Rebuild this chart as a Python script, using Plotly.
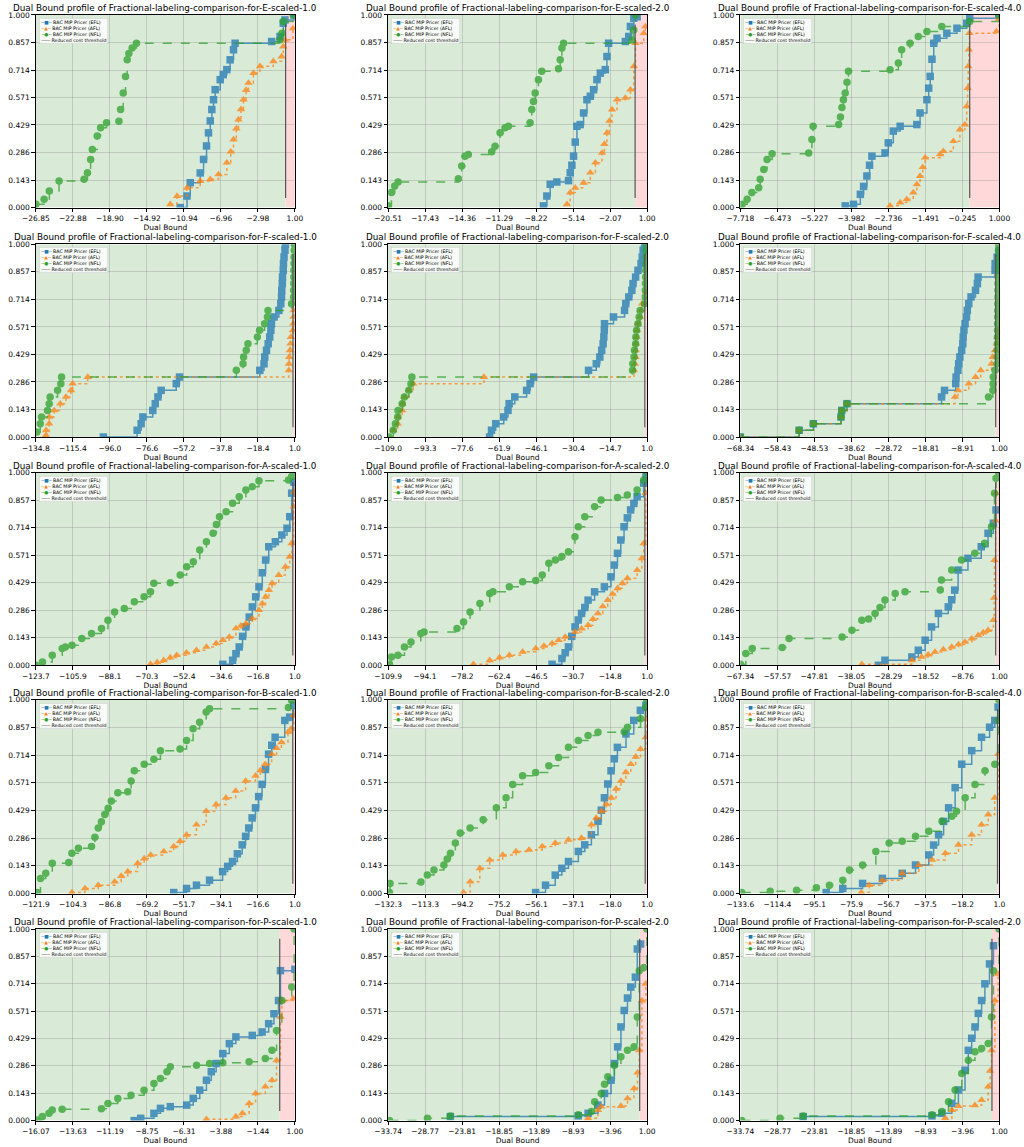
import plotly.graph_objects as go

# ---------------------------------------------------------------- data
PANEL_NAMES = [
    "E-scaled-1.0", "E-scaled-2.0", "E-scaled-4.0",
    "F-scaled-1.0", "F-scaled-2.0", "F-scaled-4.0",
    "A-scaled-1.0", "A-scaled-2.0", "A-scaled-4.0",
    "B-scaled-1.0", "B-scaled-2.0", "B-scaled-4.0",
    "P-scaled-1.0", "P-scaled-2.0", "P-scaled-2.0",
]

E1_TICKS = ["-26.85", "-22.88", "-18.90", "-14.92", "-10.94", "-6.96", "-2.98", "1.00"]
E2_TICKS = ["-20.51", "-17.43", "-14.36", "-11.29", "-8.22", "-5.14", "-2.07", "1.00"]
E4_TICKS = ["-7.718", "-6.473", "-5.227", "-3.982", "-2.736", "-1.491", "-0.245", "1.000"]
F1_TICKS = ["-134.8", "-115.4", "-96.0", "-76.6", "-57.2", "-37.8", "-18.4", "1.0"]
F2_TICKS = ["-109.0", "-93.3", "-77.6", "-61.9", "-46.1", "-30.4", "-14.7", "1.0"]
F4_TICKS = ["-68.34", "-58.43", "-48.53", "-38.62", "-28.72", "-18.81", "-8.91", "1.00"]
A1_TICKS = ["-123.7", "-105.9", "-88.1", "-70.3", "-52.4", "-34.6", "-16.8", "1.0"]
A2_TICKS = ["-109.9", "-94.1", "-78.2", "-62.4", "-46.5", "-30.7", "-14.8", "1.0"]
A4_TICKS = ["-67.34", "-57.57", "-47.81", "-38.05", "-28.29", "-18.52", "-8.76", "1.00"]
B1_TICKS = ["-121.9", "-104.3", "-86.8", "-69.2", "-51.7", "-34.1", "-16.6", "1.0"]
B2_TICKS = ["-132.3", "-113.3", "-94.2", "-75.2", "-56.1", "-37.1", "-18.0", "1.0"]
B4_TICKS = ["-133.6", "-114.4", "-95.1", "-75.9", "-56.7", "-37.5", "-18.2", "1.0"]
P1_TICKS = ["-16.07", "-13.63", "-11.19", "-8.75", "-6.31", "-3.88", "-1.44", "1.00"]
P2_TICKS = ["-33.74", "-28.77", "-23.81", "-18.85", "-13.89", "-8.93", "-3.96", "1.00"]
P3_TICKS = ["-33.74", "-28.77", "-23.81", "-18.85", "-13.89", "-8.93", "-3.96", "1.00"]

Y_TICKS = ["0.000", "0.143", "0.286", "0.429", "0.571", "0.714", "0.857", "1.000"]

THRESHOLD = 0.0
THRESHOLD_SPAN = [0.05, 0.95]

# E scaled 1.0
E1_EFL_X = [-11.33, -10.60, -10.25, -9.18, -8.82, -8.50, -8.29, -8.10, -7.93, -7.75, -7.57, -7.03, -6.70, -6.32,
            -5.96, -5.60, -5.43, -1.50, -0.60, -0.25, -0.07, 0.90]
E1_EFL_Y = [0.000, 0.060, 0.129, 0.180, 0.250, 0.320, 0.388, 0.450, 0.509, 0.560, 0.612, 0.664, 0.690, 0.716,
            0.767, 0.819, 0.853, 0.862, 0.888, 0.957, 0.974, 1.000]
E1_AFL_X = [-12.40, -11.67, -10.60, -9.18, -8.11, -7.21, -6.32, -5.90, -5.60, -5.30, -5.07, -4.80, -4.53, -4.25,
            -3.99, -3.46, -2.75, -1.32, -0.43, -0.25, -0.07, 0.80]
E1_AFL_Y = [0.017, 0.060, 0.103, 0.138, 0.147, 0.172, 0.233, 0.290, 0.353, 0.410, 0.457, 0.510, 0.560, 0.610,
            0.647, 0.698, 0.733, 0.759, 0.784, 0.836, 0.871, 0.930]
E1_NFL_X = [-26.85, -25.96, -25.40, -24.35, -21.67, -21.30, -20.96, -20.78, -20.25, -19.89, -19.25, -17.92, -17.74,
            -17.46, -17.21, -17.03, -16.85, -16.50, -16.03, -0.61, -0.40, -0.25, 0.82]
E1_NFL_Y = [0.017, 0.043, 0.086, 0.138, 0.147, 0.181, 0.250, 0.302, 0.371, 0.414, 0.440, 0.448, 0.509, 0.595,
            0.681, 0.767, 0.800, 0.828, 0.853, 0.871, 0.905, 0.966, 1.000]

# E scaled 2.0
E2_EFL_X = [-7.61, -7.33, -7.05, -6.50, -5.53, -5.39, -5.25, -5.11, -4.97, -4.83, -4.56, -4.28, -4.00, -3.72,
            -3.45, -3.17, -2.89, -2.48, -2.34, -2.20, -0.81, -0.53, -0.39, -0.11, 0.17]
E2_EFL_Y = [0.009, 0.060, 0.121, 0.133, 0.140, 0.181, 0.220, 0.267, 0.340, 0.422, 0.431, 0.491, 0.560, 0.578,
            0.612, 0.664, 0.698, 0.716, 0.784, 0.853, 0.862, 0.888, 0.940, 0.983, 0.990]
E2_AFL_X = [-5.66, -5.39, -4.97, -4.28, -3.72, -3.30, -2.75, -2.55, -2.34, -2.13, -1.92, -1.50, -0.81, -0.39,
            -0.11, 0.03, 0.72, 0.86]
E2_AFL_Y = [0.017, 0.078, 0.103, 0.129, 0.181, 0.233, 0.284, 0.330, 0.388, 0.450, 0.509, 0.560, 0.569, 0.612,
            0.733, 0.853, 0.905, 0.940]
E2_NFL_X = [-20.51, -20.23, -19.96, -19.68, -14.68, -14.40, -14.13, -13.85, -11.91, -11.63, -11.21, -10.80, -10.52,
            -8.72, -8.58, -8.44, -8.30, -8.03, -7.75, -6.36, -6.22, -6.08, -5.94, -0.25, -0.11, 0.03]
E2_NFL_Y = [0.009, 0.078, 0.112, 0.133, 0.150, 0.216, 0.267, 0.276, 0.290, 0.319, 0.388, 0.414, 0.422,
            0.440, 0.509, 0.550, 0.595, 0.664, 0.707, 0.720, 0.767, 0.828, 0.853, 0.870, 0.922, 1.000]

# E scaled 4.0
E4_EFL_X = [-4.19, -3.91, -3.68, -3.57, -3.46, -3.37, -3.29, -2.85, -2.74, -2.57, -2.34, -1.78, -1.67, -1.44,
            -1.38, -1.33, -1.27, -1.21, -1.10, -0.77, -0.43, -0.10, 0.00, 0.98]
E4_EFL_Y = [0.009, 0.017, 0.069, 0.110, 0.164, 0.220, 0.267, 0.284, 0.336, 0.397, 0.422, 0.431, 0.491, 0.560,
            0.620, 0.681, 0.770, 0.853, 0.879, 0.905, 0.931, 0.957, 0.983, 1.000]
E4_AFL_X = [-2.68, -2.34, -2.12, -1.90, -1.78, -1.67, -1.58, -1.50, -1.00, -0.89, -0.55, -0.33, -0.16, -0.10,
            -0.07, -0.05, -0.03, -0.01, 0.90, 0.99]
E4_AFL_Y = [0.009, 0.026, 0.043, 0.078, 0.120, 0.164, 0.210, 0.259, 0.276, 0.293, 0.345, 0.405, 0.431, 0.526,
            0.620, 0.733, 0.820, 0.905, 0.914, 0.980]
E4_NFL_X = [-7.66, -7.49, -7.33, -7.10, -7.05, -6.93, -6.82, -6.65, -5.42, -5.31, -5.27, -4.41, -4.35, -4.30,
            -4.25, -4.19, -4.13, -4.08, -2.68, -2.40, -2.29, -2.01, -1.73, -1.44, -0.94, 0.00, 0.97]
E4_NFL_Y = [0.017, 0.043, 0.078, 0.103, 0.147, 0.198, 0.250, 0.279, 0.284, 0.353, 0.422, 0.431, 0.470, 0.520,
            0.560, 0.595, 0.650, 0.707, 0.716, 0.750, 0.819, 0.853, 0.888, 0.914, 0.940, 0.966, 1.000]

# F scaled 1.0
F1_EFL_X = [-99.4, -81.7, -79.6, -78.7, -73.5, -72.2, -70.8, -69.1, -61.2, -59.5, -17.4, -15.2, -14.8, -13.9,
            -13.0, -12.2, -11.6, -11.3, -9.9, -7.4, -6.4, -6.0, -5.9, -5.6, -5.5, -5.1, -5.0, -4.7, -4.2, -4.0]
F1_EFL_Y = [0.000, 0.035, 0.069, 0.104, 0.138, 0.173, 0.208, 0.242, 0.277, 0.311, 0.346, 0.380, 0.415, 0.450,
            0.484, 0.519, 0.554, 0.588, 0.623, 0.657, 0.692, 0.727, 0.761, 0.796, 0.830, 0.865, 0.900, 0.934,
            0.969, 1.000]
F1_AFL_X = [-129.5, -129.4, -127.8, -127.7, -125.2, -122.0, -119.0, -116.4, -115.5, -107.6, -2.2, -2.1, -2.0,
            -1.6, -1.3, -1.1, -0.1, 0.1, 0.2, 0.3]
F1_AFL_Y = [0.009, 0.035, 0.069, 0.104, 0.138, 0.173, 0.208, 0.242, 0.277, 0.311, 0.346, 0.380, 0.415,
            0.450, 0.484, 0.519, 0.554, 0.588, 0.623, 0.657]
F1_NFL_X = [-134.3, -132.5, -131.8, -128.7, -127.8, -127.3, -123.4, -121.7, -121.3, -29.7, -26.2, -25.9, -24.5,
            -23.6, -18.7, -17.5, -14.9, -13.4, -13.1, -0.75, 0.30, 0.35, 0.40, 0.45, 0.50, 0.55, 0.60, 0.65, 0.70]
F1_NFL_Y = [0.026, 0.069, 0.104, 0.138, 0.173, 0.208, 0.242, 0.277, 0.311, 0.346, 0.380, 0.415, 0.450,
            0.484, 0.519, 0.554, 0.588, 0.623, 0.657, 0.692, 0.727, 0.761, 0.796, 0.830, 0.865, 0.900, 0.934,
            0.969, 1.000]

# F scaled 2.0
F2_EFL_X = [-65.9, -65.1, -63.3, -59.9, -58.1, -57.6, -55.2, -50.2, -48.7, -47.2, -23.9, -20.6, -19.1, -18.3,
            -17.7, -17.4, -17.2, -17.1, -13.3, -8.6, -8.1, -6.8, -5.5, -5.0, -3.9, -2.9, -1.6, -1.1, -0.7, -0.1]
F2_EFL_Y = [0.000, 0.035, 0.069, 0.104, 0.138, 0.173, 0.208, 0.242, 0.277, 0.311, 0.346, 0.380, 0.415, 0.450,
            0.484, 0.519, 0.554, 0.588, 0.623, 0.657, 0.692, 0.727, 0.761, 0.796, 0.830, 0.865, 0.900, 0.934,
            0.969, 1.000]
F2_AFL_X = [-106.8, -104.9, -104.8, -103.0, -102.9, -102.1, -100.2, -98.3, -68.3, -4.6, -4.2, -3.9, -3.85,
            -3.8, -3.5, -3.3, -2.9, -2.0, -1.6, -1.1, 0.5]
F2_AFL_Y = [0.035, 0.069, 0.104, 0.138, 0.173, 0.208, 0.242, 0.277, 0.311, 0.346, 0.380, 0.415, 0.450,
            0.484, 0.519, 0.554, 0.588, 0.623, 0.657, 0.692, 0.750]
F2_NFL_X = [-108.6, -106.8, -105.9, -104.9, -104.8, -103.0, -102.1, -100.2, -99.3, -98.9, -5.2, -5.1, -4.6,
            -4.4, -3.9, -3.8, -3.5, -2.9, -2.4, -2.0, -0.1, 0.2, 0.25, 0.3, 0.35, 0.4, 0.45, 0.5, 0.55, 0.6]
F2_NFL_Y = [0.000, 0.035, 0.069, 0.104, 0.138, 0.173, 0.208, 0.242, 0.277, 0.311, 0.346, 0.380, 0.415,
            0.450, 0.484, 0.519, 0.554, 0.588, 0.623, 0.657, 0.692, 0.727, 0.761, 0.796, 0.830, 0.865, 0.900,
            0.934, 0.969, 1.000]

# F scaled 4.0
F4_EFL_X = [-68.34, -52.6, -48.8, -41.4, -41.2, -39.8, -14.5, -13.7, -10.7, -10.6, -10.1, -9.9, -9.6, -9.1,
            -8.8, -8.7, -8.5, -8.2, -7.8, -7.6, -7.2, -6.6, -5.4, -4.9, -4.7, -0.17, -0.15, 0.4, 0.9]
F4_EFL_Y = [0.000, 0.035, 0.069, 0.104, 0.138, 0.173, 0.208, 0.242, 0.277, 0.311, 0.346, 0.380, 0.415, 0.450,
            0.484, 0.519, 0.554, 0.588, 0.623, 0.657, 0.692, 0.727, 0.761, 0.796, 0.830, 0.865, 0.900, 0.934,
            0.969]
F4_AFL_X = [-68.34, -52.6, -48.8, -41.4, -41.2, -39.8, -10.9, -10.1, -7.2, -5.4, -4.0, -1.1, -0.8, -0.17,
            0.3, 0.5, 0.7]
F4_AFL_Y = [0.000, 0.035, 0.069, 0.104, 0.138, 0.173, 0.208, 0.242, 0.277, 0.311, 0.346, 0.380, 0.415, 0.450,
            0.484, 0.519, 0.554]
F4_NFL_X = [-68.34, -52.6, -48.8, -41.4, -41.2, -39.8, -1.93, -0.76, -0.70, -0.65, -0.17, 0.38, 0.41, 0.43,
            0.45, 0.47, 0.50, 0.51, 0.53, 0.55, 0.58, 0.60, 0.61, 0.63, 0.66, 0.68, 0.70, 0.73, 0.75, 0.78]
F4_NFL_Y = [0.000, 0.035, 0.069, 0.104, 0.138, 0.173, 0.208, 0.242, 0.277, 0.311, 0.346, 0.380, 0.415, 0.450,
            0.484, 0.519, 0.554, 0.588, 0.623, 0.657, 0.692, 0.727, 0.761, 0.796, 0.830, 0.865, 0.900, 0.934,
            0.969, 1.000]

# A scaled 1.0
A1_EFL_X = [-33.7, -29.0, -27.4, -25.8, -24.2, -22.6, -21.0, -19.5, -17.9, -16.3, -14.7, -13.1, -11.6, -8.4,
            -5.3, -2.8, -1.5, -0.56, 0.5]
A1_EFL_Y = [0.005, 0.026, 0.060, 0.095, 0.150, 0.199, 0.250, 0.303, 0.355, 0.407, 0.480, 0.546, 0.615, 0.641,
            0.676, 0.711, 0.771, 0.893, 0.950]
A1_AFL_X = [-68.5, -65.3, -62.2, -59.0, -55.9, -51.2, -46.4, -41.6, -36.9, -33.7, -30.6, -27.4, -25.0, -22.6,
            -19.5, -16.3, -14.7, -13.1, -11.5, -10.0, -6.8, -3.6, -1.5, -0.56, 0.4, 0.7]
A1_AFL_Y = [0.005, 0.015, 0.026, 0.040, 0.052, 0.065, 0.078, 0.095, 0.113, 0.130, 0.147, 0.191, 0.205, 0.217,
            0.243, 0.286, 0.320, 0.355, 0.390, 0.425, 0.468, 0.511, 0.563, 0.633, 0.823, 0.900]
A1_NFL_X = [-123.7, -120.5, -115.8, -111.0, -109.5, -106.3, -101.6, -96.9, -92.1, -89.0, -85.8, -81.1, -76.3,
            -71.6, -68.5, -66.9, -59.0, -54.2, -51.1, -47.9, -44.8, -41.6, -38.4, -36.8, -35.3, -32.1, -29.0,
            -25.8, -22.6, -19.5, -16.3, -2.1, -0.56, 0.4]
A1_NFL_Y = [0.000, 0.017, 0.052, 0.087, 0.095, 0.104, 0.139, 0.165, 0.191, 0.234, 0.277, 0.295, 0.329,
            0.355, 0.381, 0.425, 0.428, 0.468, 0.511, 0.537, 0.598, 0.641, 0.685, 0.730, 0.771, 0.797, 0.841,
            0.875, 0.910, 0.927, 0.958, 0.962, 0.979, 1.000]

# A scaled 2.0
A2_EFL_X = [-39.7, -35.5, -34.1, -32.7, -31.3, -29.9, -28.5, -27.1, -25.7, -24.3, -21.5, -17.3, -14.5, -13.1,
            -11.7, -10.3, -8.9, -7.5, -6.1, -4.7, -3.3, -0.5, 0.5]
A2_EFL_Y = [0.005, 0.035, 0.065, 0.095, 0.150, 0.199, 0.235, 0.269, 0.300, 0.338, 0.381, 0.407, 0.459, 0.520,
            0.581, 0.650, 0.719, 0.765, 0.806, 0.840, 0.875, 0.945, 0.980]
A2_AFL_X = [-73.4, -66.4, -62.2, -58.0, -52.3, -46.7, -43.2, -39.7, -36.9, -34.1, -29.9, -27.1, -24.3, -22.2,
            -20.1, -18.0, -15.9, -13.8, -11.7, -9.6, -7.5, -3.3, -1.3, -0.5, 0.4]
A2_AFL_Y = [0.005, 0.026, 0.040, 0.052, 0.070, 0.087, 0.100, 0.113, 0.130, 0.147, 0.173, 0.190, 0.208, 0.240,
            0.269, 0.305, 0.338, 0.370, 0.399, 0.425, 0.451, 0.494, 0.555, 0.633, 0.893]
A2_NFL_X = [-109.3, -108.5, -105.7, -102.9, -100.1, -95.9, -94.5, -80.4, -77.6, -74.8, -70.6, -66.4, -65.0,
            -58.0, -52.3, -46.7, -43.9, -41.1, -38.3, -35.5, -32.7, -29.9, -28.5, -25.7, -21.5, -18.7, -11.7,
            -7.5, -3.3, -0.5, 1.0]
A2_NFL_Y = [0.005, 0.043, 0.052, 0.095, 0.121, 0.165, 0.173, 0.191, 0.225, 0.277, 0.321, 0.373, 0.381,
            0.407, 0.433, 0.440, 0.468, 0.529, 0.546, 0.565, 0.589, 0.667, 0.719, 0.771, 0.823, 0.858, 0.870,
            0.884, 0.910, 0.962, 1.000]

# A scaled 4.0
A4_EFL_X = [-30.9, -29.2, -22.1, -20.4, -18.6, -16.9, -15.1, -12.5, -11.6, -10.8, -9.9, -7.3, -3.8, -2.0,
            -0.6, 0.1]
A4_EFL_Y = [0.000, 0.026, 0.043, 0.078, 0.130, 0.199, 0.269, 0.303, 0.340, 0.390, 0.494, 0.555, 0.615, 0.685,
            0.737, 0.806]
A4_AFL_X = [-35.3, -22.1, -19.5, -17.8, -16.0, -13.8, -11.6, -9.8, -8.1, -6.3, -4.6, -3.3, -2.0, -0.6, -0.4,
            -0.3, 0.0, 0.1]
A4_AFL_Y = [0.005, 0.026, 0.043, 0.055, 0.069, 0.082, 0.095, 0.108, 0.121, 0.138, 0.156, 0.170, 0.182, 0.234,
            0.350, 0.546, 0.750, 0.893]
A4_NFL_X = [-67.34, -65.9, -64.2, -56.3, -54.5, -40.5, -37.9, -35.3, -33.5, -31.8, -30.5, -29.2, -26.5, -23.9,
            -14.6, -14.3, -11.6, -9.0, -5.5, -2.9, -1.1, -0.3, 0.1, 0.8]
A4_NFL_Y = [0.005, 0.061, 0.087, 0.092, 0.139, 0.147, 0.182, 0.234, 0.240, 0.269, 0.300, 0.338, 0.373, 0.381,
            0.390, 0.442, 0.494, 0.546, 0.581, 0.633, 0.719, 0.893, 0.970, 1.000]

# B scaled 1.0
B1_EFL_X = [-56.5, -50.4, -45.7, -39.5, -33.3, -30.9, -28.6, -26.3, -24.0, -22.4, -20.9, -19.3, -17.7, -16.2,
            -14.6, -13.0, -11.5, -10.0, -8.4, -3.8, -1.5, 0.4]
B1_EFL_Y = [0.005, 0.026, 0.043, 0.069, 0.113, 0.140, 0.165, 0.205, 0.251, 0.295, 0.338, 0.390, 0.442, 0.500,
            0.563, 0.640, 0.719, 0.765, 0.806, 0.893, 0.910, 0.971]
B1_AFL_X = [-104.8, -98.6, -92.3, -84.5, -81.4, -78.3, -73.6, -70.5, -67.4, -61.2, -56.5, -53.5, -50.4, -45.7,
            -41.1, -36.4, -31.7, -27.1, -22.4, -17.7, -15.4, -13.1, -10.0, -7.7, -5.4, -2.3, -0.8, 0.4]
B1_AFL_Y = [0.005, 0.026, 0.043, 0.061, 0.090, 0.113, 0.156, 0.180, 0.199, 0.217, 0.243, 0.270, 0.303, 0.355,
            0.425, 0.459, 0.494, 0.529, 0.581, 0.607, 0.635, 0.667, 0.719, 0.750, 0.780, 0.832, 0.850, 0.919]
B1_NFL_X = [-121.3, -119.7, -117.2, -114.1, -106.3, -104.8, -101.7, -95.5, -93.9, -92.3, -90.8, -89.2, -87.6,
            -86.1, -83.0, -78.3, -76.7, -75.2, -70.5, -65.9, -62.8, -53.5, -50.4, -47.3, -44.2, -41.1, -39.5,
            -2.1, -0.56]
B1_NFL_Y = [0.005, 0.078, 0.104, 0.156, 0.160, 0.208, 0.234, 0.243, 0.290, 0.338, 0.370, 0.407, 0.440,
            0.477, 0.520, 0.525, 0.580, 0.633, 0.667, 0.693, 0.737, 0.745, 0.789, 0.850, 0.884, 0.936, 0.953,
            0.960, 0.997]

# B scaled 2.0
B2_EFL_X = [-56.4, -51.3, -46.3, -42.9, -39.5, -34.4, -31.1, -27.7, -24.3, -22.6, -21.0, -19.3, -17.6, -15.9,
            -14.3, -9.9, -5.9, -2.5, 0.3]
B2_EFL_Y = [0.005, 0.043, 0.095, 0.130, 0.165, 0.217, 0.251, 0.303, 0.373, 0.430, 0.494, 0.565, 0.633, 0.695,
            0.754, 0.823, 0.893, 0.945, 0.971]
B2_AFL_X = [-93.5, -90.1, -85.1, -80.0, -73.3, -66.5, -59.8, -53.0, -46.3, -39.5, -32.8, -27.7, -25.2, -22.6,
            -20.0, -17.5, -15.0, -12.5, -10.0, -7.4, -4.9, -2.4, 0.3, 0.8]
B2_AFL_Y = [0.005, 0.061, 0.130, 0.173, 0.199, 0.217, 0.225, 0.243, 0.260, 0.277, 0.286, 0.355, 0.390, 0.425,
            0.460, 0.494, 0.540, 0.581, 0.625, 0.667, 0.705, 0.745, 0.806, 0.900]
B2_NFL_X = [-131.6, -131.3, -115.4, -112.1, -108.7, -103.6, -101.9, -100.2, -97.7, -95.2, -90.1, -83.4, -76.6,
            -71.6, -68.2, -63.1, -56.4, -49.6, -44.6, -39.5, -34.4, -29.4, -24.3, -10.8, -9.1, -2.4, 0.3, 0.8]
B2_NFL_Y = [0.005, 0.052, 0.060, 0.095, 0.121, 0.147, 0.178, 0.208, 0.260, 0.312, 0.338, 0.381, 0.442,
            0.494, 0.563, 0.607, 0.624, 0.659, 0.702, 0.754, 0.789, 0.815, 0.832, 0.835, 0.858, 0.901, 0.962,
            1.000]

# B scaled 4.0
B4_EFL_X = [-89.0, -80.4, -70.1, -59.8, -49.5, -42.6, -35.7, -33.2, -30.6, -28.0, -25.4, -22.0, -18.6, -13.4,
            -8.3, -4.1, -1.4, 0.3]
B4_EFL_Y = [0.005, 0.026, 0.052, 0.078, 0.104, 0.147, 0.199, 0.250, 0.303, 0.372, 0.442, 0.546, 0.667, 0.737,
            0.806, 0.858, 0.893, 0.962]
B4_AFL_X = [-70.8, -66.7, -59.8, -49.5, -40.9, -34.0, -27.1, -20.3, -13.4, -8.3, -4.8, -1.4, 0.3]
B4_AFL_Y = [0.005, 0.043, 0.069, 0.104, 0.147, 0.173, 0.208, 0.251, 0.303, 0.355, 0.407, 0.494, 0.719]
B4_NFL_X = [-132.9, -118.1, -104.4, -94.1, -87.3, -80.4, -76.9, -70.1, -63.2, -56.3, -49.5, -42.6, -35.7,
            -28.8, -23.7, -21.3, -16.8, -11.7, -6.5, -1.4, 0.3, 0.8]
B4_NFL_Y = [0.005, 0.012, 0.017, 0.030, 0.043, 0.069, 0.121, 0.147, 0.217, 0.260, 0.269, 0.295, 0.321,
            0.373, 0.399, 0.425, 0.494, 0.563, 0.633, 0.667, 0.893, 1.000]

# P scaled 1.0
P1_EFL_X = [-9.59, -9.16, -8.29, -7.86, -7.21, -6.13, -5.70, -5.27, -4.83, -4.51, -4.19, -3.75, -3.32, -2.89,
            -1.81, -1.16, -0.73, -0.38, -0.08, 0.05, 1.00]
P1_EFL_Y = [0.000, 0.012, 0.038, 0.064, 0.073, 0.081, 0.116, 0.159, 0.211, 0.255, 0.298, 0.350, 0.402, 0.437,
            0.445, 0.463, 0.506, 0.558, 0.627, 0.783, 0.790]
P1_AFL_X = [-4.83, -2.89, -2.46, -2.02, -1.59, -0.95, -0.51, -0.21, 0.05, 0.14, 0.90]
P1_AFL_Y = [0.007, 0.021, 0.038, 0.090, 0.142, 0.177, 0.211, 0.315, 0.541, 0.627, 0.636]
P1_NFL_X = [-15.98, -15.64, -15.20, -14.99, -14.34, -11.75, -11.32, -10.67, -9.80, -8.94, -8.29, -7.86, -7.43,
            -7.21, -5.48, -4.62, -3.75, -2.02, -0.95, -0.51, -0.21, 0.14, 0.79, 0.95]
P1_NFL_Y = [0.003, 0.021, 0.038, 0.055, 0.059, 0.062, 0.090, 0.116, 0.133, 0.159, 0.194, 0.220, 0.255,
            0.281, 0.289, 0.298, 0.302, 0.307, 0.324, 0.367, 0.471, 0.627, 0.697, 1.000]

# P scaled 2.0
P2_EFL_X = [-25.39, -8.24, -6.92, -5.60, -4.72, -3.84, -3.40, -2.96, -2.52, -2.08, -1.64, -1.20, -0.58, -0.32,
            0.12]
P2_EFL_Y = [0.021, 0.025, 0.038, 0.081, 0.142, 0.211, 0.298, 0.385, 0.489, 0.575, 0.640, 0.697, 0.749, 0.896,
            0.922]
P2_AFL_X = [-6.92, -5.60, -5.16, -2.52, -1.64, -0.76, -0.30, -0.06, 0.30, 0.82]
P2_AFL_Y = [0.012, 0.055, 0.073, 0.076, 0.116, 0.168, 0.250, 0.367, 0.627, 0.714]
P2_NFL_X = [-33.56, -28.46, -25.39, -8.24, -6.48, -6.04, -5.16, -4.72, -4.28, -3.40, -2.52, -1.64, -0.76,
            -0.32, -0.06, 0.56, 0.95]
P2_NFL_Y = [0.000, 0.012, 0.024, 0.030, 0.047, 0.099, 0.142, 0.190, 0.229, 0.289, 0.333, 0.367, 0.385,
            0.541, 0.783, 0.800, 1.000]

# P scaled 2.0 (second run)
P3_EFL_X = [-25.32, -8.04, -6.71, -5.38, -4.50, -3.61, -3.17, -2.72, -2.28, -1.83, -1.39, -0.95, -0.33, 0.20]
P3_EFL_Y = [0.021, 0.025, 0.038, 0.090, 0.160, 0.263, 0.367, 0.430, 0.489, 0.560, 0.627, 0.714, 0.818, 0.913]
P3_AFL_X = [-6.27, -5.38, -4.50, -2.28, -1.39, -0.50, -0.25, -0.06, 0.38, 0.82]
P3_AFL_Y = [0.012, 0.055, 0.076, 0.080, 0.107, 0.177, 0.260, 0.367, 0.627, 0.766]
P3_NFL_X = [-33.56, -28.42, -25.32, -8.04, -6.71, -5.83, -4.94, -4.05, -3.17, -2.28, -1.39, -0.50, -0.06,
            0.20, 0.95]
P3_NFL_Y = [0.000, 0.012, 0.024, 0.030, 0.047, 0.099, 0.160, 0.246, 0.315, 0.359, 0.376, 0.402, 0.541,
            0.783, 1.000]

PANELS = [
    (E1_TICKS, E1_EFL_X, E1_EFL_Y, E1_AFL_X, E1_AFL_Y, E1_NFL_X, E1_NFL_Y),
    (E2_TICKS, E2_EFL_X, E2_EFL_Y, E2_AFL_X, E2_AFL_Y, E2_NFL_X, E2_NFL_Y),
    (E4_TICKS, E4_EFL_X, E4_EFL_Y, E4_AFL_X, E4_AFL_Y, E4_NFL_X, E4_NFL_Y),
    (F1_TICKS, F1_EFL_X, F1_EFL_Y, F1_AFL_X, F1_AFL_Y, F1_NFL_X, F1_NFL_Y),
    (F2_TICKS, F2_EFL_X, F2_EFL_Y, F2_AFL_X, F2_AFL_Y, F2_NFL_X, F2_NFL_Y),
    (F4_TICKS, F4_EFL_X, F4_EFL_Y, F4_AFL_X, F4_AFL_Y, F4_NFL_X, F4_NFL_Y),
    (A1_TICKS, A1_EFL_X, A1_EFL_Y, A1_AFL_X, A1_AFL_Y, A1_NFL_X, A1_NFL_Y),
    (A2_TICKS, A2_EFL_X, A2_EFL_Y, A2_AFL_X, A2_AFL_Y, A2_NFL_X, A2_NFL_Y),
    (A4_TICKS, A4_EFL_X, A4_EFL_Y, A4_AFL_X, A4_AFL_Y, A4_NFL_X, A4_NFL_Y),
    (B1_TICKS, B1_EFL_X, B1_EFL_Y, B1_AFL_X, B1_AFL_Y, B1_NFL_X, B1_NFL_Y),
    (B2_TICKS, B2_EFL_X, B2_EFL_Y, B2_AFL_X, B2_AFL_Y, B2_NFL_X, B2_NFL_Y),
    (B4_TICKS, B4_EFL_X, B4_EFL_Y, B4_AFL_X, B4_AFL_Y, B4_NFL_X, B4_NFL_Y),
    (P1_TICKS, P1_EFL_X, P1_EFL_Y, P1_AFL_X, P1_AFL_Y, P1_NFL_X, P1_NFL_Y),
    (P2_TICKS, P2_EFL_X, P2_EFL_Y, P2_AFL_X, P2_AFL_Y, P2_NFL_X, P2_NFL_Y),
    (P3_TICKS, P3_EFL_X, P3_EFL_Y, P3_AFL_X, P3_AFL_Y, P3_NFL_X, P3_NFL_Y),
]

# ---------------------------------------------------------------- style
FONT = "DejaVu Sans"
SERIES = [
    ("BAC MIP Pricer (EFL)", "#1f77b4", "square", "solid", "\u25a0"),
    ("BAC MIP Pricer (AFL)", "#ff7f0e", "triangle-up", "dot", "\u25b2"),
    ("BAC MIP Pricer (NFL)", "#2ca02c", "circle", "dash", "\u25cf"),
]
COL_X = [(0.035, 0.288), (0.379, 0.632), (0.723, 0.976)]
ROW_Y = [(0.819, 0.987), (0.619, 0.787), (0.420, 0.588), (0.221, 0.390), (0.023, 0.190)]


def minus(s):
    return s.replace("-", "\u2212")


# small legend text shared by all panels
legend_lines = [
    f'<span style="color:{color}">\u2500{ch}\u2500</span> {name}'
    for name, color, _, _, ch in SERIES
]
legend_lines.append('<span style="color:#555555">\u2500\u2500\u2500</span> Reduced cost threshold')
LEGEND_TEXT = "<br>".join(legend_lines)

fig = go.Figure()
shapes = []
annotations = []
layout = {}

for i, (ticks, *series) in enumerate(PANELS):
    k = i + 1
    r, c = divmod(i, 3)
    xs = "" if k == 1 else str(k)
    xmin, xmax = float(ticks[0]), float(ticks[-1])

    for j, (name, color, symbol, dash, _) in enumerate(SERIES):
        fig.add_trace(go.Scatter(
            x=series[2 * j], y=series[2 * j + 1],
            mode="lines+markers", line_shape="hv",
            line={"color": color, "width": 1.5, "dash": dash},
            marker={"color": color, "symbol": symbol, "size": 7.5},
            opacity=0.75, name=name, showlegend=False,
            xaxis=f"x{xs}", yaxis=f"y{xs}",
        ))

    # reduced cost threshold
    fig.add_trace(go.Scatter(
        x=[THRESHOLD, THRESHOLD], y=THRESHOLD_SPAN, mode="lines",
        line={"color": "#555555", "width": 1.2}, name="Reduced cost threshold",
        showlegend=False, xaxis=f"x{xs}", yaxis=f"y{xs}",
    ))

    # shaded regions
    shapes.append(dict(type="rect", xref=f"x{xs}", yref=f"y{xs}", x0=xmin, x1=THRESHOLD, y0=0, y1=1,
                       fillcolor="#d9ebd6", line_width=0, layer="below"))
    shapes.append(dict(type="rect", xref=f"x{xs}", yref=f"y{xs}", x0=THRESHOLD, x1=xmax, y0=0, y1=1,
                       fillcolor="#ffd9d9", line_width=0, layer="below"))

    axis_common = dict(
        showline=True, linecolor="black", linewidth=1, mirror=True,
        ticks="outside", ticklen=3.5, tickcolor="black", automargin=False,
        showgrid=True, gridcolor="rgba(128,128,128,0.3)", gridwidth=1,
        zeroline=False, tickfont={"size": 7.5, "family": FONT, "color": "black"},
    )
    layout[f"xaxis{xs}"] = dict(
        axis_common, domain=list(COL_X[c]), anchor=f"y{xs}", range=[xmin, xmax],
        tickvals=[float(t) for t in ticks], ticktext=[minus(t) for t in ticks],
        title={"text": "Dual Bound", "font": {"size": 7.5, "family": FONT, "color": "black"}, "standoff": 2},
    )
    layout[f"yaxis{xs}"] = dict(
        axis_common, domain=list(ROW_Y[r]), anchor=f"x{xs}", range=[0, 1],
        tickvals=[float(t) for t in Y_TICKS], ticktext=Y_TICKS,
    )
    annotations.append(dict(
        text=f"Dual Bound profile of Fractional-labeling-comparison-for-{PANEL_NAMES[i]}",
        xref="paper", yref="paper", x=(COL_X[c][0] + COL_X[c][1]) / 2, y=ROW_Y[r][1],
        xanchor="center", yanchor="bottom", showarrow=False, yshift=0,
        font={"size": 8.8, "family": FONT, "color": "black"},
    ))
    annotations.append(dict(
        text=LEGEND_TEXT, align="left",
        xref="paper", yref="paper", x=COL_X[c][0], y=ROW_Y[r][1],
        xanchor="left", yanchor="top", xshift=3, yshift=-3, showarrow=False,
        bgcolor="rgba(255,255,255,0.8)", bordercolor="#cccccc", borderwidth=0.5, borderpad=1,
        font={"size": 4.7, "family": FONT, "color": "black"},
    ))

fig.update_layout(
    **layout,
    width=1024, height=1147,
    margin={"l": 0, "r": 0, "t": 0, "b": 0},
    paper_bgcolor="white", plot_bgcolor="white",
    shapes=shapes, annotations=annotations,
    font={"family": FONT}, showlegend=False,
    hovermode=False,
)

# the page's default body margin would shift the figure by 8px
fig.write_html("out.html", config={"displayModeBar": False},
               post_script="document.body.style.margin='0';")
